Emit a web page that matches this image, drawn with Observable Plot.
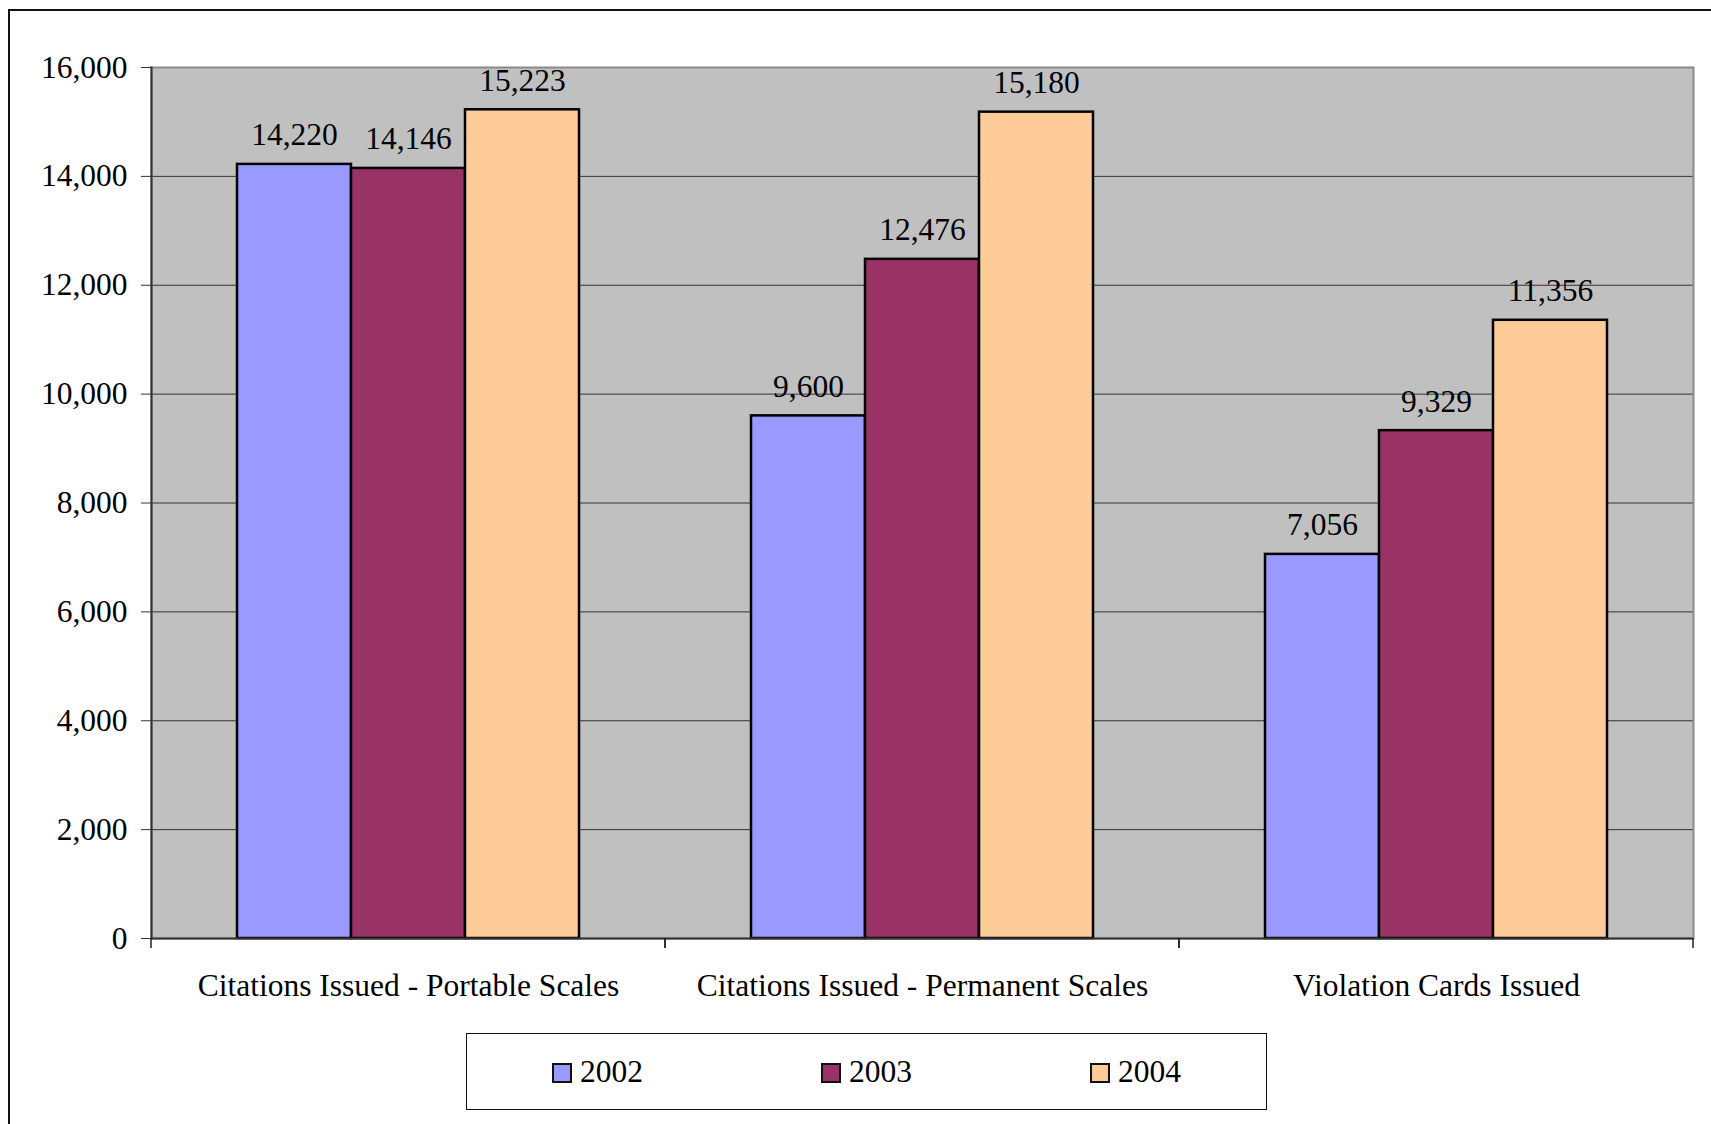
<!DOCTYPE html>
<html>
<head>
<meta charset="utf-8">
<script src="https://cdn.jsdelivr.net/npm/d3@7"></script>
<script src="https://cdn.jsdelivr.net/npm/@observablehq/plot@0.6"></script>
<style>
  html, body { margin: 0; padding: 0; background: #fff; overflow: hidden; }
  #page { position: relative; width: 1711px; height: 1124px; }
  #outline {
    position: absolute; left: 8px; top: 9px; width: 1800px; height: 1200px;
    border-left: 2px solid #111; border-top: 2px solid #111;
    z-index: 2; pointer-events: none;
  }
  #chart svg { display: block; background: transparent; }
  #legend {
    position: absolute; left: 466px; top: 1033px; width: 801px; height: 77px;
    box-sizing: border-box; border: 1.5px solid #111;
    display: flex; justify-content: center; align-items: center; gap: 178px;
    font-family: "Liberation Serif", "Times New Roman", serif; font-size: 31.5px; color: #000;
  }
  #legend .item { display: flex; align-items: center; gap: 8px; }
  #legend .swatch { width: 20px; height: 20px; box-sizing: border-box; border: 2.5px solid #111; margin-top: 3px; }
</style>
</head>
<body>
<div id="page">
  <div id="outline"></div>
  <div id="chart"></div>
  <div id="legend"></div>
</div>
<script>
// Enforcement activity by year
const categories = [
  "Citations Issued - Portable Scales",
  "Citations Issued - Permanent Scales",
  "Violation Cards Issued"
];
const years = ["2002", "2003", "2004"];
const values2002 = [14220, 9600, 7056];
const values2003 = [14146, 12476, 9329];
const values2004 = [15223, 15180, 11356];
const yTicks = [0, 2000, 4000, 6000, 8000, 10000, 12000, 14000, 16000];
const yearColors = ["#9999FF", "#993366", "#FFCC99"];

const seriesByYear = [values2002, values2003, values2004];
const rows = categories.flatMap((category, i) =>
  years.map((year, j) => ({category, year, value: seriesByYear[j][i]}))
);

const fmt = d3.format(",");
const font = "'Liberation Serif', 'Times New Roman', serif";

// Short downward ticks at the edges of each category band on the x axis
function bandEdgeTicks(index, scales, values, dimensions) {
  const {marginLeft, marginRight, width} = dimensions;
  const y0 = scales.y(0);
  const g = d3.create("svg:g").attr("stroke", "#222").attr("stroke-width", 1.5);
  for (const x of [marginLeft, width - marginRight]) {
    g.append("line").attr("x1", x).attr("x2", x).attr("y1", y0).attr("y2", y0 + 10);
  }
  return g.node();
}

const chart = Plot.plot({
  width: 1711,
  height: 1010,
  marginLeft: 150,
  marginRight: 17,
  marginTop: 67,
  marginBottom: 72,
  style: {fontFamily: font, fontSize: "31.5px", color: "#000", background: "transparent"},
  fx: {domain: categories, padding: 0, label: null},
  x: {domain: years, paddingInner: 0, paddingOuter: 0.75, axis: null},
  y: {domain: [0, 16000], label: null},
  color: {domain: years, range: yearColors},
  marks: [
    Plot.frame({facet: "super", fill: "#c0c0c0", stroke: null}),
    Plot.gridY(yTicks.filter((t) => t > 0 && t < 16000), {stroke: "#333", strokeOpacity: 1, strokeWidth: 1}),
    Plot.frame({facet: "super", fill: null, stroke: "#8a8a8a", strokeWidth: 2}),
    Plot.barY(rows, {
      fx: "category", x: "year", y: "value", fill: "year",
      stroke: "#000", strokeWidth: 2.5
    }),
    Plot.text(rows, {
      fx: "category", x: "year", y: "value", text: (d) => fmt(d.value),
      lineAnchor: "bottom", dy: -19, fontSize: 31.5, fill: "#000"
    }),
    Plot.ruleY([0], {stroke: "#333", strokeWidth: 2}),
    Plot.frame({facet: "super", anchor: "left", stroke: "#333", strokeWidth: 2}),
    bandEdgeTicks,
    Plot.axisY({
      ticks: yTicks, tickFormat: fmt, tickSize: 10, tickPadding: 14,
      stroke: "#333", fontSize: 31.5, label: null
    }),
    Plot.axisFx({anchor: "bottom", tickSize: 0, tickPadding: 35, fontSize: 31.5, label: null})
  ]
});
document.getElementById("chart").appendChild(chart);

// Legend row below the chart
const legend = d3.select("#legend");
years.forEach((year, i) => {
  const item = legend.append("div").attr("class", "item");
  item.append("div").attr("class", "swatch").style("background", yearColors[i]);
  item.append("span").text(year);
});
</script>
</body>
</html>
